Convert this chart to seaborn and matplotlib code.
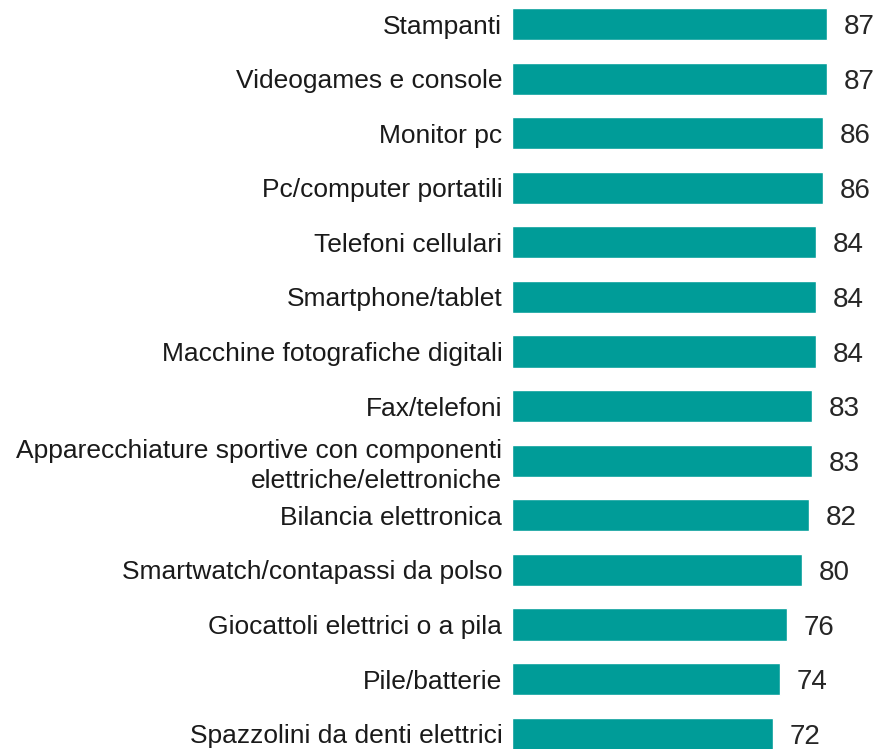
import matplotlib
matplotlib.use("Agg")
import matplotlib.pyplot as plt
import seaborn as sns
import pandas as pd

categories = [
    "Stampanti",
    "Videogames e console",
    "Monitor pc",
    "Pc/computer portatili",
    "Telefoni cellulari",
    "Smartphone/tablet",
    "Macchine fotografiche digitali",
    "Fax/telefoni",
    "Apparecchiature sportive con componenti\nelettriche/elettroniche",
    "Bilancia elettronica",
    "Smartwatch/contapassi da polso",
    "Giocattoli elettrici o a pila",
    "Pile/batterie",
    "Spazzolini da denti elettrici",
]
values = [87, 87, 86, 86, 84, 84, 84, 83, 83, 82, 80, 76, 74, 72]

df = pd.DataFrame({"cat": categories, "val": values})

sns.set_theme(style="white")
plt.rcParams["font.family"] = ["Liberation Sans", "DejaVu Sans"]

fig = plt.figure(figsize=(8.81, 7.49), dpi=100)
ax = fig.add_axes([512 / 881, 0, 1 - 512 / 881, 1])

sns.barplot(data=df, y="cat", x="val", orient="h", color="#009C98",
            saturation=1, width=0.59, ax=ax)

ax.set_xlim(0, (881 - 512) / 3.62)
ax.set_ylim(13.28, -0.44)
ax.set_xlabel("")
ax.set_ylabel("")
ax.set_xticks([])
for s in ax.spines.values():
    s.set_visible(False)
ax.tick_params(axis="y", length=0, pad=7, labelsize=19, labelcolor="#1a1a1a")
for lbl in ax.get_yticklabels():
    lbl.set_horizontalalignment("right")
    lbl.set_multialignment("right")
    lbl.set_linespacing(1.3)

for i, v in enumerate(values):
    ax.annotate(f"{v}", xy=(v, i), xytext=(12, 0), textcoords="offset points",
                va="center_baseline", ha="left", fontsize=20, color="#262626",
                annotation_clip=False)

fig.savefig("out.png", dpi=100)
